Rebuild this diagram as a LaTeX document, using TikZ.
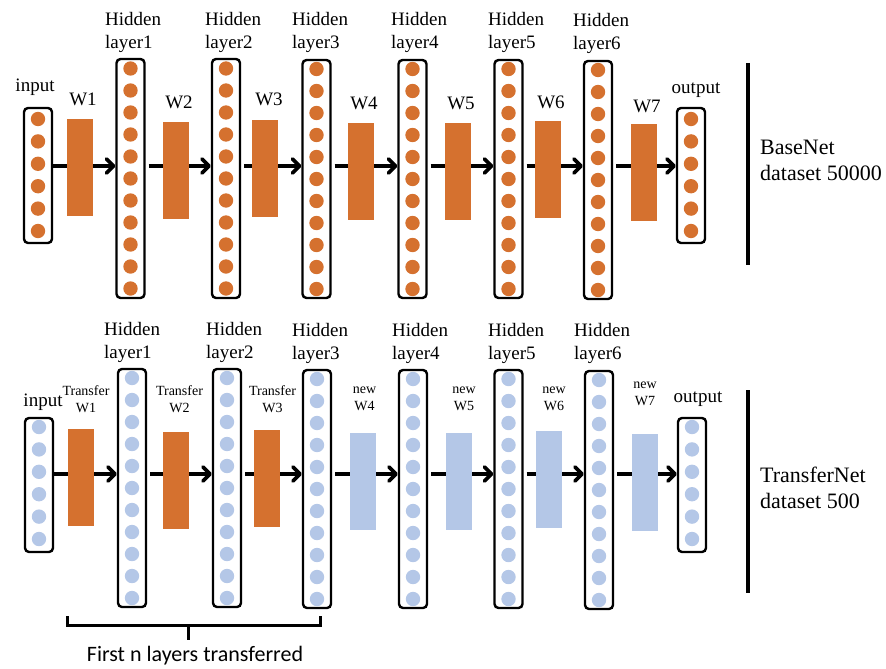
\documentclass[tikz,border=0pt]{standalone}
\usepackage{fontspec}
\setmainfont{Liberation Serif}
\newfontfamily\tnr{Liberation Serif}
\newfontfamily\sansf{Carlito}
\usetikzlibrary{arrows.meta}
\definecolor{orng}{HTML}{D5712F}
\definecolor{lblue}{HTML}{B4C7E7}
\tikzset{
 lbox/.style={draw, line width=2.4pt, rounded corners=4pt, minimum width=28pt, inner sep=0pt},
 wrect/.style={inner sep=0pt, minimum width=26pt, minimum height=97pt},
 arr/.style={line width=3.6pt, -{Straight Barb[length=7pt,width=14pt,line cap=round,line join=round]}},
 lab/.style={font=\tnr\fontsize{19}{23}\selectfont, inner sep=0pt, align=left},
 slab/.style={font=\tnr\fontsize{14}{17}\selectfont, inner sep=0pt, align=center},
 big/.style={font=\tnr\fontsize{22}{26}\selectfont, inner sep=0pt, align=left},
 vbar/.style={line width=4pt},
 brk/.style={line width=3pt}
}
\newcommand\netlayer[8]{%
 \node[lbox, minimum height={(#4)-(#3)}] (#1) at (#2,{((#3)+(#4))/2}) {};
 \foreach \k in {1,...,#6}{\fill[#8] (#2,{#5+(\k-1)*#7}) circle (7.2pt);}
}
\begin{document}
\begin{tikzpicture}[x=1pt,y=-1pt]
\useasboundingbox (0,0) rectangle (886,669);
\coordinate (ty) at (0,166);
\coordinate (by) at (0,474);
% ---------- top row: layers ----------
\netlayer{tin}{38}{108}{243}{119}{6}{22.4}{orng}
\netlayer{th1}{130.5}{59}{298}{68.5}{11}{22}{orng}
\netlayer{th2}{226}{59}{298}{68.5}{11}{22}{orng}
\netlayer{th3}{316.5}{60}{298}{69}{11}{22}{orng}
\netlayer{th4}{412.5}{60}{298}{69}{11}{22}{orng}
\netlayer{th5}{508.5}{60}{298}{69}{11}{22}{orng}
\netlayer{th6}{598}{61}{299}{70}{11}{22}{orng}
\netlayer{tout}{691}{108}{243}{119}{6}{22.4}{orng}
% arrows
\draw[arr] (tin.east |- ty) -- (th1.west |- ty);
\draw[arr,shorten <=3pt] (th1.east |- ty) -- (th2.west |- ty);
\draw[arr,shorten <=3pt] (th2.east |- ty) -- (th3.west |- ty);
\draw[arr,shorten <=3pt] (th3.east |- ty) -- (th4.west |- ty);
\draw[arr,shorten <=3pt] (th4.east |- ty) -- (th5.west |- ty);
\draw[arr,shorten <=3pt] (th5.east |- ty) -- (th6.west |- ty);
\draw[arr,shorten <=3pt] (th6.east |- ty) -- (tout.west |- ty);
% weight blocks
\node[wrect,fill=orng] (tw1) at (80,167.5) {};
\node[wrect,fill=orng] (tw2) at (176,170) {};
\node[wrect,fill=orng] (tw3) at (265,168) {};
\node[wrect,fill=orng] (tw4) at (361,171) {};
\node[wrect,fill=orng] (tw5) at (458,171) {};
\node[wrect,fill=orng] (tw6) at (548,169.5) {};
\node[wrect,fill=orng] (tw7) at (644,172) {};
% labels
\node[lab,anchor=base] (ltin) at (35,92) {input};
\node[lab,anchor=base] (ltout) at (696,93) {output};
\node[lab,anchor=south west] (lth1) at (105,53) {Hidden\\layer1};
\node[lab,anchor=south west] (lth2) at (205,53) {Hidden\\layer2};
\node[lab,anchor=south west] (lth3) at (292,53) {Hidden\\layer3};
\node[lab,anchor=south west] (lth4) at (391,53) {Hidden\\layer4};
\node[lab,anchor=south west] (lth5) at (488,53) {Hidden\\layer5};
\node[lab,anchor=south west] (lth6) at (573,54) {Hidden\\layer6};
\node[lab,anchor=base] (ltw1) at (83,105) {W1};
\node[lab,anchor=base] (ltw2) at (179,108) {W2};
\node[lab,anchor=base] (ltw3) at (269,105) {W3};
\node[lab,anchor=base] (ltw4) at (364,110) {W4};
\node[lab,anchor=base] (ltw5) at (461,110) {W5};
\node[lab,anchor=base] (ltw6) at (551,108) {W6};
\node[lab,anchor=base] (ltw7) at (647,112) {W7};
\coordinate (tv1) at (748,63);
\coordinate (tv2) at (748,265);
\draw[vbar] (tv1) -- (tv2);
\node[big,anchor=west] (tname) at (760,160) {BaseNet\\dataset 50000};
% ---------- bottom row: layers ----------
\netlayer{bin}{39}{418}{552}{427}{6}{22.4}{lblue}
\netlayer{bh1}{132}{369}{607}{378}{11}{22}{lblue}
\netlayer{bh2}{227}{369}{607}{378}{11}{22}{lblue}
\netlayer{bh3}{317}{370}{608}{379}{11}{22}{lblue}
\netlayer{bh4}{413}{370}{608}{379}{11}{22}{lblue}
\netlayer{bh5}{508.5}{370}{608}{379}{11}{22}{lblue}
\netlayer{bh6}{599}{371}{609}{380}{11}{22}{lblue}
\netlayer{bout}{692}{418}{552}{427}{6}{22.4}{lblue}
\draw[arr] (bin.east |- by) -- (bh1.west |- by);
\draw[arr,shorten <=3pt] (bh1.east |- by) -- (bh2.west |- by);
\draw[arr,shorten <=3pt] (bh2.east |- by) -- (bh3.west |- by);
\draw[arr,shorten <=3pt] (bh3.east |- by) -- (bh4.west |- by);
\draw[arr,shorten <=3pt] (bh4.east |- by) -- (bh5.west |- by);
\draw[arr,shorten <=3pt] (bh5.east |- by) -- (bh6.west |- by);
\draw[arr,shorten <=3pt] (bh6.east |- by) -- (bout.west |- by);
\node[wrect,fill=orng] (bw1) at (80.5,477) {};
\node[wrect,fill=orng] (bw2) at (176,480) {};
\node[wrect,fill=orng] (bw3) at (266.5,478.5) {};
\node[wrect,fill=lblue] (bw4) at (362.5,481) {};
\node[wrect,fill=lblue] (bw5) at (459,481) {};
\node[wrect,fill=lblue] (bw6) at (549,479.5) {};
\node[wrect,fill=lblue] (bw7) at (645,482) {};
\node[lab,anchor=base] (lbin) at (43,406) {input};
\node[lab,anchor=base] (lbout) at (698,402) {output};
\node[lab,anchor=south west] (lbh1) at (104,363) {Hidden\\layer1};
\node[lab,anchor=south west] (lbh2) at (206,363) {Hidden\\layer2};
\node[lab,anchor=south west] (lbh3) at (292,364) {Hidden\\layer3};
\node[lab,anchor=south west] (lbh4) at (392,364) {Hidden\\layer4};
\node[lab,anchor=south west] (lbh5) at (488,364) {Hidden\\layer5};
\node[lab,anchor=south west] (lbh6) at (574,364) {Hidden\\layer6};
\node[slab,anchor=south] (lbw1) at (86,413) {Transfer\\W1};
\node[slab,anchor=south] (lbw2) at (179.5,413) {Transfer\\W2};
\node[slab,anchor=south] (lbw3) at (272.5,413) {Transfer\\W3};
\node[slab,anchor=south] (lbw4) at (364.5,411) {new\\W4};
\node[slab,anchor=south] (lbw5) at (464,411) {new\\W5};
\node[slab,anchor=south] (lbw6) at (554,411) {new\\W6};
\node[slab,anchor=south] (lbw7) at (645,406) {new\\W7};
\coordinate (bv1) at (748,390);
\coordinate (bv2) at (748,593);
\draw[vbar] (bv1) -- (bv2);
\node[big,anchor=west] (bname) at (760,488) {TransferNet\\dataset 500};
% ---------- bracket ----------
\coordinate (k1) at (67,616);
\coordinate (k2) at (67,625);
\coordinate (k3) at (320,625);
\coordinate (k4) at (320,616);
\coordinate (km) at (188,625);
\coordinate (kt) at (188,640);
\draw[brk] (k1) -- (k2) -- (k3) -- (k4);
\draw[brk] (km) -- (kt);
\node[font=\sansf\fontsize{22}{26}\selectfont, inner sep=0pt, anchor=base] (ktext) at (195,661) {First n layers transferred};
\end{tikzpicture}
\end{document}
